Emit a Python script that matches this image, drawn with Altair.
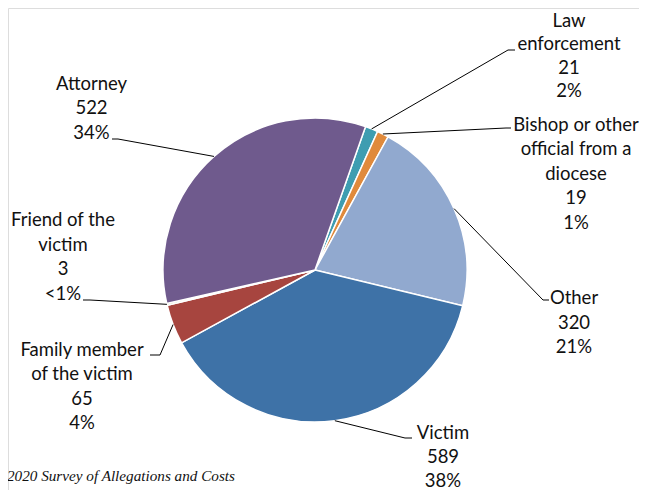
import math
import altair as alt
import pandas as pd

# ---------------- data ----------------
categories = ["Law enforcement", "Bishop or other official from a diocese", "Other",
              "Victim", "Family member of the victim", "Friend of the victim", "Attorney"]
counts = [21, 19, 320, 589, 65, 3, 522]
percent_labels = ["2%", "1%", "21%", "38%", "4%", "<1%", "34%"]
name_lines = [["Law", "enforcement"], ["Bishop or other", "official from a", "diocese"],
              ["Other"], ["Victim"], ["Family member", "of the victim"],
              ["Friend of the", "victim"], ["Attorney"]]
colors = ["#3E9DB1", "#E08A3C", "#91A9CF", "#3E72A7", "#A7453F", "#B9CC8F", "#6F5A8D"]
footer = "2020 Survey of Allegations and Costs"

# ---------------- layout (page pixels) ----------------
OFF = 8
CX, CY, R = 315, 270, 152
START_DEG = 19.4
label_anchor = [(569, 20.5), (576, 124.5), (574, 298), (443, 433),
                (82, 349.5), (63, 220), (91.5, 83.5)]
label_line_h = [23.6, 24.5, 24.5, 23.75, 24.5, 24.5, 24.5]
leader_elbow = [(508, 50), (506, 128), (543, 300), (405, 438),
                (160, 355), (90, 300), (118, 139)]
leader_end = [(515, 50), (511, 128), (549, 300), (412, 438),
              (150, 355), (83, 300), (112, 139)]

total = sum(counts)
a0 = math.radians(START_DEG)

pie_df = pd.DataFrame({"cat": categories, "value": counts, "idx": list(range(len(counts)))})

# leader lines
rows = []
cum = 0
for i, v in enumerate(counts):
    mid = a0 + 2 * math.pi * (cum + v / 2) / total
    cum += v
    sx = CX + R * math.sin(mid)
    sy = CY - R * math.cos(mid)
    pts = [(sx, sy), leader_elbow[i], leader_end[i]]
    for k, (px, py) in enumerate(pts):
        rows.append({"cat": categories[i], "seq": k, "px": px - OFF, "py": py - OFF})
line_df = pd.DataFrame(rows)

# labels
trows = []
for i in range(len(counts)):
    lines = name_lines[i] + [str(counts[i]), percent_labels[i]]
    cx, y0 = label_anchor[i]
    for k, t in enumerate(lines):
        trows.append({"t": t, "tx": cx - OFF, "ty": y0 + k * label_line_h[i] - OFF})
text_df = pd.DataFrame(trows)

foot_df = pd.DataFrame({"t": [footer], "tx": [7 - OFF], "ty": [476 - OFF]})

pie = alt.Chart(pie_df).mark_arc(outerRadius=R, stroke="white", strokeWidth=1.5).encode(
    theta=alt.Theta("value:Q", stack=True,
                    scale=alt.Scale(range=[a0, a0 + 2 * math.pi])),
    color=alt.Color("cat:N", scale=alt.Scale(domain=categories, range=colors), legend=None),
    order=alt.Order("idx:Q", sort="ascending"),
    x=alt.value(CX - OFF),
    y=alt.value(CY - OFF),
)

leaders = alt.Chart(line_df).mark_line(color="#000000", strokeWidth=1).encode(
    x=alt.X("px:Q", scale=None),
    y=alt.Y("py:Q", scale=None),
    detail="cat:N",
    order="seq:Q",
)

labels = alt.Chart(text_df).mark_text(font="Lato", fontSize=18.5, color="#111111",
                                      align="center", baseline="middle").encode(
    x=alt.X("tx:Q", scale=None),
    y=alt.Y("ty:Q", scale=None),
    text="t:N",
)

foot = alt.Chart(foot_df).mark_text(font="Liberation Serif", fontStyle="italic", fontSize=15.2,
                                    color="#111111", align="left", baseline="middle").encode(
    x=alt.X("tx:Q", scale=None),
    y=alt.Y("ty:Q", scale=None),
    text="t:N",
)

chart = alt.layer(pie, leaders, labels, foot).properties(
    width=631, height=482, padding=0, autosize=alt.AutoSizeParams(type="none")
).configure_view(strokeWidth=0).configure(background="white")

chart.save("out.html", embed_options={"renderer": "svg", "actions": False})
